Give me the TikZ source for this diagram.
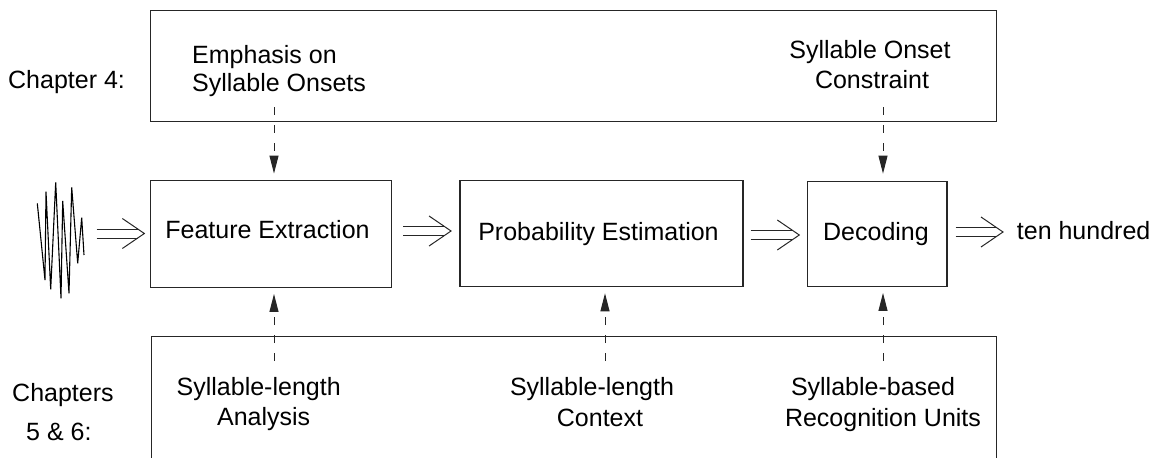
\documentclass[tikz,border=0pt]{standalone}
\usepackage{fontspec}
\setmainfont{Liberation Sans}
\usetikzlibrary{arrows.meta,calc}
\tikzset{
  lbl/.style={font=\fontsize{25}{28}\selectfont, inner sep=0pt, anchor=base},
  boxline/.style={draw=black!85, line width=1.3pt},
  blockbox/.style={boxline, rectangle, inner sep=0pt},
  dasharrow/.style={draw=black!85, line width=1pt, dash pattern=on 8pt off 10pt,
    -{Triangle[length=18pt,width=9pt]}},
  dblline/.style={draw=black!85, line width=1pt},
  wavestyle/.style={draw=black, line width=1.1pt, line join=miter}
}
\newcommand\dblarr[2]{%
  \draw[dblline] ($(#1)+(0,-4.5)$) -- ($(#2)+(-6,-4.5)$);
  \draw[dblline] ($(#1)+(0,4.5)$) -- ($(#2)+(-6,4.5)$);
  \draw[dblline] ($(#2)+(-22,-15)$) -- (#2) -- ($(#2)+(-22,15)$);}
\begin{document}
\begin{tikzpicture}[x=1pt,y=-1pt]
\path[use as bounding box] (0,0) rectangle (1152,458);
\clip (0,0) rectangle (1152,458);

% top chapter box
\node[blockbox, minimum width=846pt, minimum height=111pt] (topbox) at (573.6,66.1) {};
% bottom chapter box (open at bottom)
\coordinate (bbl) at (151.7,470);
\coordinate (bbr) at (996.7,470);
\draw[boxline] (bbl) |- (996.7,336.7) -- (bbr);

% processing blocks
\node[blockbox, minimum width=241pt, minimum height=106.6pt] (fe) at (271.2,234) {};
\node[blockbox, minimum width=283pt, minimum height=106pt] (pe) at (601.5,233.6) {};
\node[blockbox, minimum width=139.3pt, minimum height=105pt] (dec) at (877.3,233.8) {};

\node[lbl] (fetext) at (267.5,238.3) {Feature Extraction};
\node[lbl] (petext) at (598.5,240.5) {Probability Estimation};
\node[lbl] (dectext) at (876,240) {Decoding};
\node[lbl, anchor=base west] (out) at (1016.7,239) {ten hundred};

% chapter labels
\node[lbl, anchor=base west] (ch4) at (8,88) {Chapter 4:};
\node[lbl, anchor=base west] (ch56a) at (12,401.7) {Chapters};
\node[lbl, anchor=base west] (ch56b) at (26,440.7) {5 \& 6:};

% top box texts
\node[lbl, anchor=base west] (emph1) at (192,63) {Emphasis on};
\node[lbl, anchor=base west] (emph2) at (192,91) {Syllable Onsets};
\node[lbl] (soc1) at (870,58) {Syllable Onset};
\node[lbl] (soc2) at (872,88) {Constraint};

% bottom box texts
\node[lbl] (sla1) at (258.7,395) {Syllable-length};
\node[lbl] (sla2) at (263.7,425.7) {Analysis};
\node[lbl] (slc1) at (592,395) {Syllable-length};
\node[lbl] (slc2) at (600,426.7) {Context};
\node[lbl] (sbr1) at (873,395) {Syllable-based};
\node[lbl] (sbr2) at (883,426.7) {Recognition Units};

% dashed influence arrows
\coordinate (t1) at (274,107);
\coordinate (t2) at (883,107);
\coordinate (b1) at (274,361);
\coordinate (b2) at (605,361);
\coordinate (b3) at (883,361);
\draw[dasharrow] (t1) -- ($(t1 |- fe.north)+(0,-6.5)$);
\draw[dasharrow] (t2) -- ($(t2 |- dec.north)+(0,-7)$);
\draw[dasharrow] (b1) -- ($(b1 |- fe.south)+(0,6)$);
\draw[dasharrow] (b2) -- ($(b2 |- pe.south)+(0,6)$);
\draw[dasharrow] (b3) -- ($(b3 |- dec.south)+(0,6)$);

% speech waveform
\draw[wavestyle] (37.3,203.3) -- (45,280) -- (46,191.7) -- (50.7,289.3) -- (55.7,182.3)
  -- (61,298.3) -- (62.7,201) -- (69,293.3) -- (71.7,187.3) -- (77.7,263.3)
  -- (81.7,217.7) -- (84,255);
\coordinate (wave) at (96.7,233.5);

% double arrows
\coordinate (a1e) at ($(fe.west)+(-5.7,-0.5)$);
\dblarr{wave}{a1e}
\coordinate (a2s) at ($(fe.east)+(11,-3)$);
\coordinate (a2e) at ($(pe.west)+(-8.3,-2.6)$);
\dblarr{a2s}{a2e}
\coordinate (a3s) at ($(pe.east)+(7,1.4)$);
\coordinate (a3e) at ($(dec.west)+(-7.7,1.2)$);
\dblarr{a3s}{a3e}
\coordinate (a4s) at ($(dec.east)+(8,-1.8)$);
\coordinate (a4e) at ($(out.base west)+(-13.7,-7)$);
\dblarr{a4s}{a4e}
\end{tikzpicture}
\end{document}
